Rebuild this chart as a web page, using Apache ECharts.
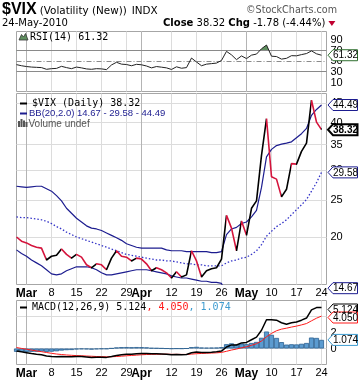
<!DOCTYPE html>
<html><head><meta charset="utf-8">
<script src="https://cdn.jsdelivr.net/npm/echarts@6/dist/echarts.min.js"></script>
<style>html,body{margin:0;padding:0;background:#fff}#c{width:360px;height:384px}</style>
</head><body><div id="c"></div>
<script>
// ---------------- DATA ----------------
const dates = ['2010-02-25','2010-02-26',
 '2010-03-01','2010-03-02','2010-03-03','2010-03-04','2010-03-05',
 '2010-03-08','2010-03-09','2010-03-10','2010-03-11','2010-03-12',
 '2010-03-15','2010-03-16','2010-03-17','2010-03-18','2010-03-19',
 '2010-03-22','2010-03-23','2010-03-24','2010-03-25','2010-03-26',
 '2010-03-29','2010-03-30','2010-03-31','2010-04-01',
 '2010-04-05','2010-04-06','2010-04-07','2010-04-08','2010-04-09',
 '2010-04-12','2010-04-13','2010-04-14','2010-04-15','2010-04-16',
 '2010-04-19','2010-04-20','2010-04-21','2010-04-22','2010-04-23',
 '2010-04-26','2010-04-27','2010-04-28','2010-04-29','2010-04-30',
 '2010-05-03','2010-05-04','2010-05-05','2010-05-06','2010-05-07',
 '2010-05-10','2010-05-11','2010-05-12','2010-05-13','2010-05-14',
 '2010-05-17','2010-05-18','2010-05-19','2010-05-20','2010-05-21',
 '2010-05-24'];

const closes = [20.0,19.5,
 19.3,19.0,18.8,18.7,17.4,
 17.8,17.9,18.6,18.0,17.6,
 18.0,17.7,16.9,16.6,17.0,
 16.9,16.4,17.6,18.4,17.8,
 17.7,17.3,17.6,17.5,
 17.0,16.3,16.6,16.4,16.1,
 15.6,16.2,15.7,15.9,18.4,
 17.3,15.7,16.3,16.5,16.6,
 17.5,22.8,21.1,18.4,22.05,
 20.2,23.8,24.9,32.8,40.95,
 28.8,28.4,25.5,26.7,31.2,
 31.1,33.6,35.3,45.8,40.1,
 38.32];

const bbUpper = [27.2,27.1,
 27.0,27.1,27.2,27.2,26.8,
 26.4,25.7,24.9,23.8,23.1,
 22.4,21.9,21.4,21.1,21.0,
 20.8,20.5,20.2,19.9,19.6,
 19.2,19.0,18.8,18.7,
 18.7,18.7,18.7,18.7,18.5,
 18.4,18.4,18.4,18.3,18.3,
 18.3,18.3,18.3,18.2,18.2,
 18.3,20.3,21.0,21.2,21.7,
 21.9,22.6,23.5,27.0,32.5,
 34.0,34.8,35.1,35.3,35.6,
 36.5,37.4,38.6,41.8,43.3,
 44.49];

const bbMiddle = [22.6,22.5,
 22.5,22.4,22.3,22.2,22.0,
 21.7,21.3,21.0,20.6,20.3,
 20.0,19.8,19.6,19.4,19.2,
 19.0,18.8,18.6,18.4,18.2,
 18.0,17.9,17.8,17.7,
 17.6,17.5,17.4,17.4,17.3,
 17.3,17.2,17.1,17.0,17.0,
 16.9,16.9,16.8,16.8,16.8,
 16.8,17.1,17.3,17.4,17.6,
 17.7,18.0,18.4,19.1,20.1,
 20.7,21.3,21.7,22.2,22.9,
 23.6,24.3,25.1,26.4,27.8,
 29.58];

const bbLower = [18.5,18.1,
 17.8,17.4,17.1,16.8,16.4,
 16.0,15.9,16.0,16.3,16.5,
 16.7,16.7,16.7,16.6,16.4,
 16.1,15.9,15.9,16.0,16.1,
 16.2,16.3,16.4,16.4,
 16.4,16.3,16.2,16.1,16.0,
 15.8,15.7,15.6,15.6,15.5,
 15.4,15.3,15.3,15.2,15.2,
 15.1,13.9,13.6,13.6,13.5,
 13.5,13.4,13.3,11.2,7.7,
 7.4,7.8,8.4,9.1,10.2,
 10.7,11.2,11.6,11.0,12.3,
 14.67];

const rsi = [43.6,41.5,
 40.0,39.0,38.5,38.0,34.8,
 36.0,36.5,40.4,38.0,36.0,
 39.0,37.5,35.5,34.8,36.0,
 35.6,34.2,43.0,48.0,44.5,
 43.8,41.5,44.2,43.3,
 41.0,37.5,40.0,38.8,37.5,
 34.5,39.5,36.8,38.0,56.0,
 48.5,41.5,44.5,45.5,46.5,
 51.5,68.6,62.0,53.0,60.0,
 55.0,61.5,63.5,73.5,80.5,
 59.5,58.8,54.0,55.5,60.5,
 60.2,62.5,64.5,69.5,64.0,
 61.32];

const macd = [-0.30,-0.42,
 -0.52,-0.62,-0.71,-0.78,-0.93,
 -1.00,-1.04,-1.01,-1.02,-1.04,
 -1.01,-1.00,-1.05,-1.11,-1.10,
 -1.09,-1.11,-1.01,-0.87,-0.79,
 -0.73,-0.71,-0.65,-0.61,
 -0.61,-0.66,-0.67,-0.69,-0.72,
 -0.77,-0.75,-0.77,-0.74,-0.53,
 -0.44,-0.50,-0.49,-0.46,-0.42,
 -0.32,0.19,0.45,0.43,0.70,
 0.76,1.09,1.42,2.28,3.59,
 3.60,3.54,3.22,3.03,3.21,
 3.31,3.54,3.81,4.83,5.11,
 5.124];

const macdSignal = [0.12,0.01,
 -0.09,-0.20,-0.30,-0.40,-0.50,
 -0.60,-0.69,-0.75,-0.81,-0.85,
 -0.89,-0.91,-0.94,-0.97,-1.00,
 -1.02,-1.04,-1.03,-1.00,-0.96,
 -0.91,-0.87,-0.83,-0.78,
 -0.75,-0.73,-0.72,-0.71,-0.71,
 -0.73,-0.73,-0.74,-0.74,-0.70,
 -0.65,-0.62,-0.59,-0.57,-0.54,
 -0.49,-0.35,-0.19,-0.07,0.09,
 0.22,0.40,0.60,0.94,1.47,
 1.89,2.22,2.42,2.54,2.68,
 2.80,2.95,3.12,3.46,3.79,
 4.050];

const macdHist = [-0.42,-0.43,
 -0.43,-0.42,-0.41,-0.38,-0.43,
 -0.40,-0.35,-0.26,-0.21,-0.19,
 -0.12,-0.09,-0.11,-0.14,-0.10,
 -0.07,-0.07,0.02,0.13,0.17,
 0.18,0.16,0.18,0.17,
 0.14,0.07,0.05,0.02,-0.01,
 -0.04,-0.02,-0.03,0.00,0.17,
 0.21,0.12,0.10,0.11,0.12,
 0.17,0.54,0.64,0.50,0.61,
 0.54,0.69,0.82,1.34,2.12,
 1.71,1.32,0.80,0.49,0.53,
 0.51,0.59,0.69,1.37,1.32,
 1.074];

const tickDates  = ['2010-03-01','2010-03-08','2010-03-15','2010-03-22','2010-03-29','2010-04-01','2010-04-12','2010-04-19','2010-04-26','2010-05-03','2010-05-10','2010-05-17','2010-05-24'];
const tickLabels = ['Mar','8','15','22','29','Apr','12','19','26','May','10','17','24'];
const monthStarts = ['2010-03-01','2010-04-01','2010-05-03'];

const rsiTicks  = [90,70,50,30,10];
const mainTicks = [20,25,30,35,40,45];
const macdTicks = [0,2,4];

// ---------------- CHART ----------------
const cats = dates.concat(['']);
const tickIdx = {};
tickDates.forEach((d,k) => { tickIdx[dates.indexOf(d)] = tickLabels[k]; });
const monthIdx = monthStarts.map(d => dates.indexOf(d));

const GL = 16.5, GW = 310, GR = GL + GW;
const gridDefs = [
  {left: GL, top: 31.5, width: GW, height: 60},
  {left: GL, top: 93.5, width: GW, height: 191},
  {left: GL, top: 300.5, width: GW, height: 64}
].map(g => Object.assign(g, {show: true, borderColor: '#a6a6a6', borderWidth: 1, backgroundColor: 'rgba(0,0,0,0)'}));

const RED = '#d4143c', NAVY = '#1c1c8f';
const closePieces = [];
for (let i = 1; i < closes.length; i++) {
  const c = closes[i] >= closes[i-1] ? '#000000' : RED;
  if (i === 1) closePieces.push({gte: -1, lte: 0, color: c});
  closePieces.push({gt: i - 1, lte: i, color: c});
}
closePieces.push({gt: closes.length - 1, lte: closes.length + 1, color: '#000000'});

const hiddenY = {axisLine: {show: false}, axisTick: {show: false}, axisLabel: {show: false}, splitLine: {show: false}};

const option = {
  animation: false,
  backgroundColor: '#ffffff',
  grid: gridDefs,
  xAxis: [0,1,2].map(i => ({
    type: 'category', gridIndex: i, data: cats, boundaryGap: false,
    axisLine: {show: false}, axisTick: {show: false},
    axisLabel: {
      show: i > 0,
      interval: (idx) => tickIdx[idx] !== undefined,
      formatter: (v, idx) => { const t = tickIdx[idx]; if (t === undefined) return ''; return /^[A-Z]/.test(t) ? '{b|' + t + '}' : t; },
      margin: 3, color: '#000', fontFamily: 'Liberation Sans', fontSize: 11,
      rich: {b: {fontWeight: 'bold', fontSize: 12, fontFamily: 'Liberation Sans', color: '#000'}}
    },
    splitLine: {show: true, interval: (idx) => tickIdx[idx] !== undefined, lineStyle: {color: '#dcdcdc', width: 1}}
  })),
  yAxis: [
    Object.assign({type: 'value', gridIndex: 0, min: -7, max: 106}, hiddenY),
    Object.assign({type: 'log', gridIndex: 1, min: 15, max: 47.7, logBase: 10}, hiddenY),
    Object.assign({type: 'value', gridIndex: 2, min: -2, max: 6}, hiddenY)
  ],
  visualMap: [
    {type: 'piecewise', show: false, seriesIndex: 0, dimension: 1,
     pieces: [{gt: 70, lte: 120, color: '#5f8f5f'}, {gte: -20, lte: 70, color: 'rgba(255,255,255,0)'}]},
    {type: 'piecewise', show: false, seriesIndex: 5, dimension: 0, pieces: closePieces}
  ],
  series: [
    {type: 'line', xAxisIndex: 0, yAxisIndex: 0, data: rsi, symbol: 'none', silent: true,
     lineStyle: {width: 0, opacity: 0}, areaStyle: {origin: 70, opacity: 1}, z: 1},
    {type: 'line', xAxisIndex: 0, yAxisIndex: 0, data: rsi, symbol: 'none', silent: true,
     lineStyle: {color: '#222', width: 1}, z: 3},
    {type: 'line', xAxisIndex: 1, yAxisIndex: 1, data: bbUpper, symbol: 'none', silent: true,
     lineStyle: {color: NAVY, width: 1.2}},
    {type: 'line', xAxisIndex: 1, yAxisIndex: 1, data: bbMiddle, symbol: 'none', silent: true,
     lineStyle: {color: '#3535c8', width: 1.3, type: [1.5, 2]}},
    {type: 'line', xAxisIndex: 1, yAxisIndex: 1, data: bbLower, symbol: 'none', silent: true,
     lineStyle: {color: NAVY, width: 1.2}},
    {type: 'line', xAxisIndex: 1, yAxisIndex: 1, data: closes, symbol: 'none', silent: true,
     lineStyle: {width: 1.6}, z: 4},
    {type: 'bar', xAxisIndex: 2, yAxisIndex: 2, data: macdHist, barWidth: 5, silent: true,
     itemStyle: {color: '#5b9bd0', borderColor: '#2a5f90', borderWidth: 0.8}},
    {type: 'line', xAxisIndex: 2, yAxisIndex: 2, data: macd, symbol: 'none', silent: true,
     lineStyle: {color: '#000', width: 1.5}, z: 4},
    {type: 'line', xAxisIndex: 2, yAxisIndex: 2, data: macdSignal, symbol: 'none', silent: true,
     lineStyle: {color: '#ff1a1a', width: 1}, z: 3}
  ]
};

const chart = echarts.init(document.getElementById('c'), null, {renderer: 'canvas'});
chart.setOption(option);

// ---------------- DECORATIONS (positions from the chart's own scales) ----------------
const cv = document.createElement('canvas').getContext('2d');
function tw(text, font) { cv.font = font; return cv.measureText(text).width; }
const yOf = (ax, v) => chart.convertToPixel({yAxisIndex: ax}, v);
const xOf = (ax, i) => chart.convertToPixel({xAxisIndex: ax}, i);
const crisp = v => Math.round(v - 0.5) + 0.5;
const G = [];
function txt(x, y, text, font, fill, align, z) {
  G.push({type: 'text', x: x, y: y, z: z || 10, silent: true,
    style: {text: text, font: font, fill: fill || '#000', align: align || 'left', textAlign: align || 'left', verticalAlign: 'middle', textVerticalAlign: 'middle'}});
}
function hline(y, color, dash, z) {
  G.push({type: 'line', z: z || 0, silent: true, shape: {x1: GL, y1: crisp(y), x2: GR, y2: crisp(y)},
    style: {stroke: color, lineWidth: 1, lineDash: dash || null}});
}
function tag(y, text, color, bold, lw) {
  const x0 = GR + 1.5, h = 5.5;
  G.push({type: 'polygon', z: 20, silent: true,
    shape: {points: [[x0, y], [x0 + 5, y - h], [357.5, y - h], [357.5, y + h], [x0 + 5, y + h]]},
    style: {fill: '#fff', stroke: color, lineWidth: lw || 1}});
  txt(345.5, y + 0.5, text, (bold ? 'bold ' : '') + '10px "Liberation Sans"', '#000', 'center', 21);
}
const AXF = '11px "Liberation Sans"';

// grid lines
mainTicks.forEach(v => hline(yOf(1, v), '#dcdcdc'));
macdTicks.forEach(v => hline(yOf(2, v), '#dcdcdc'));
hline(yOf(0, 70), '#8a8a8a', null, 1);
hline(yOf(0, 30), '#8a8a8a', null, 1);
hline(yOf(0, 50), '#8a8a8a', [5, 2, 1, 2], 1);
// month lines (darker)
[0,1,2].forEach(gi => {
  const top = gridDefs[gi].top, bot = gridDefs[gi].top + gridDefs[gi].height;
  monthIdx.forEach(i => {
    const x = crisp(xOf(gi, i));
    G.push({type: 'line', z: 0, silent: true, shape: {x1: x, y1: top, x2: x, y2: bot}, style: {stroke: '#b4b4b4', lineWidth: 1}});
  });
});

// right axis labels
rsiTicks.forEach(v => txt(GR + 4, yOf(0, v), String(v), AXF, '#000'));
mainTicks.forEach(v => txt(GR + 4, yOf(1, v), String(v), AXF, '#000'));
macdTicks.forEach(v => txt(GR + 4, yOf(2, v), String(v), AXF, '#000'));

const L = closes.length - 1;
// tags
tag(yOf(0, rsi[L]), rsi[L].toFixed(2), '#2f6f2f');
tag(yOf(1, bbUpper[L]), bbUpper[L].toFixed(2), NAVY);
tag(yOf(1, bbMiddle[L]), bbMiddle[L].toFixed(2), NAVY);
tag(yOf(1, bbLower[L]), bbLower[L].toFixed(2), NAVY);
tag(yOf(1, closes[L]), closes[L].toFixed(2), '#000', true, 2);
tag(yOf(2, macdHist[L]), macdHist[L].toFixed(3), '#3d9bd0');
let ySig = yOf(2, macdSignal[L]), yMacd = yOf(2, macd[L]);
tag(yMacd + 2, macd[L].toFixed(3), '#000');
tag(Math.max(ySig, yMacd + 10), macdSignal[L].toFixed(3), '#ff1a1a');

// header
const HF = '"DejaVu Sans"';
const T1F = 'bold 16px "Liberation Sans"';
const T2F = '10.4px ' + HF;
txt(2, 10, '$VIX', T1F, '#000');
const t2x = 2 + tw('$VIX', T1F) + 3;
txt(t2x, 11, '(Volatility (New))', T2F, '#000');
txt(t2x + tw('(Volatility (New))', T2F) + 5, 11, 'INDX', T2F, '#000');
txt(337, 10, '\u00A9StockCharts.com', '9.6px ' + HF, '#555', 'right');
txt(2, 23.5, dates[L].slice(8) + '-May-' + dates[L].slice(0, 4), '10px ' + HF, '#000');
const chg = closes[L] - closes[L - 1];
const pct = chg / closes[L - 1] * 100;
const parts = [['Close', 'bold 10px ' + HF], [' ' + closes[L].toFixed(2) + ' ', '10px ' + HF], ['Chg', 'bold 10px ' + HF], [' ' + chg.toFixed(2) + ' (' + pct.toFixed(2) + '%)', '10px ' + HF]];
let hx = 163;
parts.forEach(p => { txt(hx, 23.5, p[0], p[1], '#000'); hx += tw(p[0], p[1]); });
G.push({type: 'polygon', z: 10, silent: true, shape: {points: [[hx + 3, 21], [hx + 10, 21], [hx + 6.5, 26]]}, style: {fill: '#c00030'}});

// legends
const LF = '10px "DejaVu Sans Mono"';
G.push({type: 'polygon', z: 10, silent: true, shape: {points: [[19, 40], [21.5, 34.5], [23.5, 37], [25.5, 33.5], [28, 40]]}, style: {fill: '#5f8f5f', stroke: '#333', lineWidth: 0.8}});
txt(30, 37, 'RSI(14) ' + rsi[L].toFixed(2), LF, '#000');
G.push({type: 'line', z: 10, silent: true, shape: {x1: 20, y1: 103.5, x2: 27, y2: 103.5}, style: {stroke: '#000', lineWidth: 2}});
txt(32, 103.5, '$VIX (Daily) ' + closes[L].toFixed(2), LF, '#000');
G.push({type: 'line', z: 10, silent: true, shape: {x1: 20, y1: 113.5, x2: 27, y2: 113.5}, style: {stroke: NAVY, lineWidth: 2}});
txt(29, 113.5, 'BB(20,2.0) ' + bbLower[L].toFixed(2) + ' - ' + bbMiddle[L].toFixed(2) + ' - ' + bbUpper[L].toFixed(2), '9.5px "Liberation Sans"', NAVY);
[[18, 121], [20.5, 119], [23, 120.5], [25.5, 122]].forEach(b => G.push({type: 'rect', z: 10, silent: true, shape: {x: b[0], y: b[1], width: 2, height: 127 - b[1]}, style: {fill: '#555'}}));
txt(28.5, 124, 'Volume undef', '10px "Liberation Sans"', '#555');
G.push({type: 'line', z: 10, silent: true, shape: {x1: 20, y1: 307.5, x2: 27, y2: 307.5}, style: {stroke: '#000', lineWidth: 2}});
const m1 = 'MACD(12,26,9) ' + macd[L].toFixed(3), m2 = ', ' + macdSignal[L].toFixed(3), m3 = ', ' + macdHist[L].toFixed(3);
txt(32, 307.5, m1, LF, '#000');
txt(32 + tw(m1, LF), 307.5, m2, LF, '#ff1a1a');
txt(32 + tw(m1 + m2, LF), 307.5, m3, LF, '#3d9bd0');

chart.setOption({graphic: {elements: G}});
</script></body></html>
